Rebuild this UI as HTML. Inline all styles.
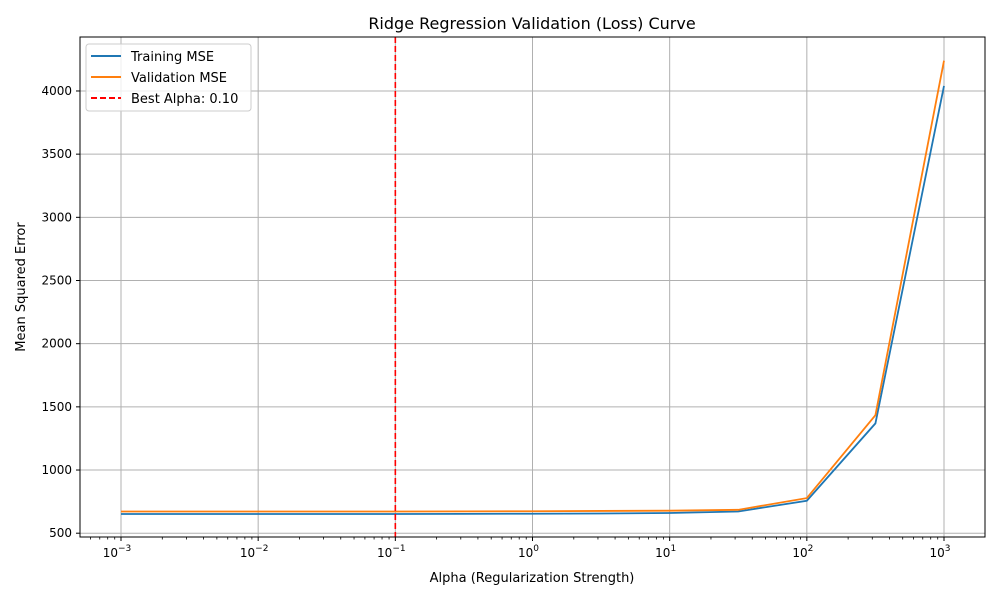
<!DOCTYPE html>
<html><head><meta charset="utf-8"><style>
body{margin:0;background:#fff;}
svg text{font-family:"DejaVu Sans","Liberation Sans",sans-serif;fill:#000;}
</style></head><body>
<svg id="chart" width="1000" height="600" xmlns="http://www.w3.org/2000/svg">
<rect width="1000" height="600" fill="#fff"/>
<g id="grid"></g>
<g id="series"></g>
<rect x="80" y="37" width="905" height="500" fill="none" stroke="#000" stroke-width="1"/>
<g id="ticks"></g>
<text x="532" y="29" font-size="16" text-anchor="middle">Ridge Regression Validation (Loss) Curve</text>
<text x="532" y="582" font-size="13" text-anchor="middle">Alpha (Regularization Strength)</text>
<text transform="translate(25,287) rotate(-90)" font-size="13" text-anchor="middle">Mean Squared Error</text>
<g>
<rect x="86" y="44" width="165" height="67" rx="3" fill="#fff" fill-opacity="0.8" stroke="#ccc"/>
<line x1="91" y1="56" x2="121" y2="56" stroke="#1f77b4" stroke-width="2"/>
<text x="131" y="61" font-size="13">Training MSE</text>
<line x1="91" y1="77" x2="121" y2="77" stroke="#ff7f0e" stroke-width="2"/>
<text x="131" y="82" font-size="13">Validation MSE</text>
<line x1="91" y1="98" x2="121" y2="98" stroke="#ff0000" stroke-width="2" stroke-dasharray="6,3"/>
<text x="131" y="103" font-size="13">Best Alpha: 0.10</text>
</g>
</svg>
<script>
const alphaExp = [-3,-2.5,-2,-1.5,-1,-0.5,0,0.5,1,1.5,2,2.5,3];
const trainMSE = [652,652,652,652,652,653,654,656,660,672,757,1369,4040];
const valMSE = [672,672,672,672,672,673,674,676,678,685,778,1434,4240];
const yTicks = [500,1000,1500,2000,2500,3000,3500,4000];
const xTickExps = [-3,-2,-1,0,1,2,3];
const bestAlphaExp = -1;
const NS="http://www.w3.org/2000/svg";
const X=e=>121+(e+3)*(944-121)/6;
const Y=v=>533.2-(v-500)*0.12635;
function mk(tag,attrs,parent){const el=document.createElementNS(NS,tag);for(const k in attrs)el.setAttribute(k,attrs[k]);document.getElementById(parent).appendChild(el);return el;}
yTicks.forEach(v=>{
 const g=mk('line',{x1:80,x2:985,y1:Y(v),y2:Y(v),stroke:'#b0b0b0','stroke-width':1},'grid');
 
 
 mk('line',{x1:76,x2:80,y1:Y(v),y2:Y(v),stroke:'#000'},'ticks');
 const t=mk('text',{x:72,y:Y(v)+4,'font-size':12,'text-anchor':'end'},'ticks');t.textContent=v;
 
 
});
xTickExps.forEach(e=>{
 const g=mk('line',{x1:X(e),x2:X(e),y1:37,y2:537,stroke:'#b0b0b0','stroke-width':1},'grid');
 
 
 mk('line',{x1:X(e),x2:X(e),y1:537,y2:541,stroke:'#000'},'ticks');
 const t=mk('text',{x:X(e)-4,y:557,'font-size':12,'text-anchor':'middle'},'ticks');
 
 
 t.innerHTML='10<tspan dy="-6" font-size="9">'+(e<0?'\u2212'+(-e):e)+'</tspan>';
});
for(let d=-4;d<4;d++)for(let m=2;m<10;m++){const e=d+Math.log10(m);const x=X(e);if(x<80||x>985)continue;mk('line',{x1:x,x2:x,y1:537,y2:539.5,stroke:'#000','stroke-width':0.8},'ticks');}
function line(vals,color,name){const p=mk('polyline',{points:vals.map((v,i)=>X(alphaExp[i])+','+Y(v)).join(' '),fill:'none',stroke:color,'stroke-width':1.8},'series');
 
 }
line(trainMSE,'#1f77b4','training-mse-line');
line(valMSE,'#ff7f0e','validation-mse-line');
const b=mk('line',{x1:X(bestAlphaExp),x2:X(bestAlphaExp),y1:37,y2:537,stroke:'#ff0000','stroke-width':1.6,'stroke-dasharray':'6,3'},'series');


</script>
</body></html>
